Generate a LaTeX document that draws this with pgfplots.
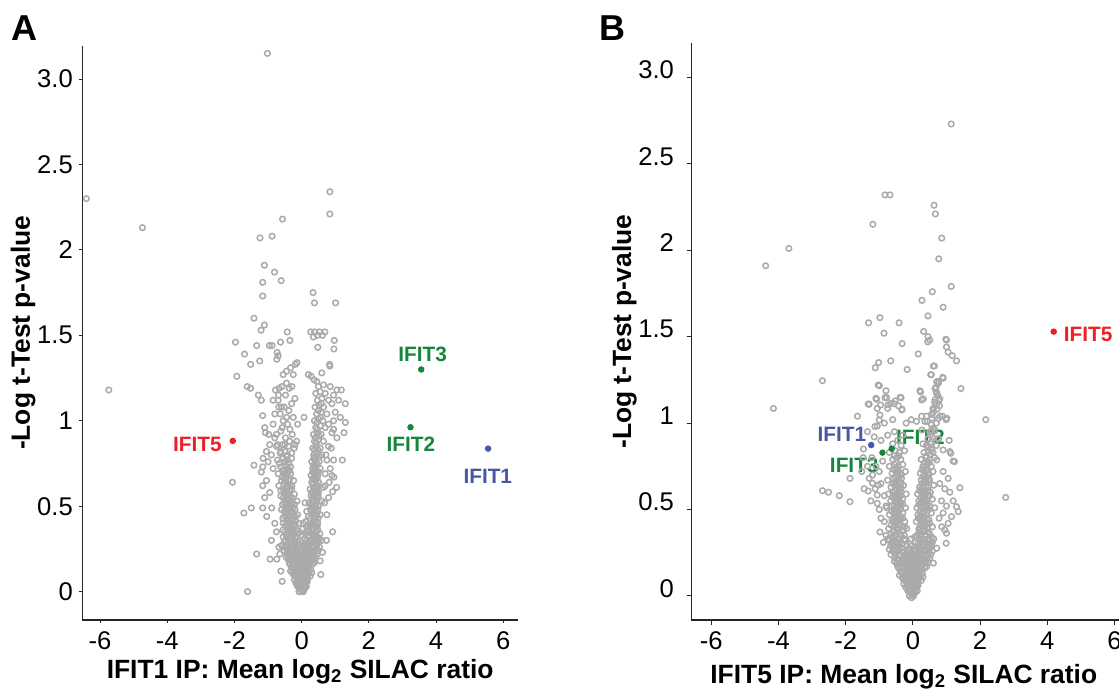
\documentclass[border=0pt]{standalone}
\usepackage{pgfplots}
\pgfplotsset{compat=1.18}
\usepackage{fontspec}
\setmainfont{Liberation Sans}
\definecolor{ptgrey}{RGB}{170,170,170}
\definecolor{ifred}{RGB}{236,32,38}
\definecolor{ifgreen}{RGB}{22,134,60}
\definecolor{ifblue}{RGB}{72,86,166}
\newcommand{\tickfont}{\fontsize{12.8}{15}\selectfont}
\newcommand{\labfont}{\bfseries\fontsize{13.2}{15}\selectfont}
\newcommand{\genefont}{\bfseries\fontsize{10.4}{12}\selectfont}
\pgfplotsset{
  volc/.style={
    scale only axis, clip=false,
    axis x line*=bottom, axis y line*=left,
    axis line style={line width=0.75pt, black!85},
    tick align=outside,
    tick style={line width=0.5pt, black!85},
    xtick={-6,-4,-2,0,2,4,6},
    xticklabels={-6,-4,-2,0,2,4,6},
    ytick={0,0.5,1,1.5,2,2.5,3},
    yticklabels={0,0.5,1,1.5,2,2.5,3.0},
    ticklabel style={font=\tickfont, inner sep=0pt},
    xlabel style={at={(axis description cs:0.5,0)}, anchor=base, inner sep=0pt, font=\labfont},
    ylabel style={anchor=south, inner sep=0pt, font=\labfont},
  },
  grey/.style={only marks, mark=o, mark size=1.4pt, mark options={draw=ptgrey, line width=0.75pt}},
  gene/.style={only marks, mark=*, mark size=1.4pt},
}
\begin{document}
\begin{tikzpicture}
\path[use as bounding box] (0,0) rectangle (559.5pt,344.5pt);
\node[anchor=base west, inner sep=0pt, font=\bfseries\fontsize{18}{20}\selectfont] at (5.35pt,324.15pt) {A};
\node[anchor=base west, inner sep=0pt, font=\bfseries\fontsize{18}{20}\selectfont] at (299.4pt,324.15pt) {B};
% ---------------- Panel A ----------------
\begin{axis}[volc,
  at={(41.15pt,34.5pt)}, anchor=south west,
  width=217.85pt, height=287.15pt,
  xmin=-6.53, xmax=6.44, ymin=-0.166, ymax=3.195,
  major tick length=1.5pt,
  xticklabel style={yshift=-4.35pt},
  yticklabel style={xshift=-3.05pt},
  xlabel={IFIT1 IP: Mean log\textsubscript{2} SILAC ratio},
  xlabel style={yshift=-29.15pt},
  ylabel={-Log t-Test p-value},
  ylabel style={at={(axis description cs:-0.1063,0.5)}},
]
\addplot[grey] coordinates {
(-6.41,2.30) (-4.74,2.13) (-5.74,1.18) (-1.02,3.15) (0.84,2.34) (0.84,2.21) (-0.57,2.18)
(-1.24,2.07) (-0.88,2.08) (-1.11,1.91) (-0.81,1.87) (-1.16,1.81) (-0.61,1.82) (-1.16,1.73)
(0.34,1.75) (0.38,1.69) (1.01,1.69) (-1.42,1.60) (-1.11,1.56) (-1.21,1.53) (-0.43,1.52)
(0.27,1.52) (0.38,1.52) (0.53,1.52) (0.69,1.52) (0.35,1.49) (0.47,1.50) (0.62,1.50)
(0.97,1.47) (0.96,1.42) (0.48,1.43) (-1.97,1.46) (-1.34,1.44) (-0.96,1.44) (-0.88,1.44)
(-0.63,1.46) (-0.35,1.47) (-0.73,1.40) (-0.70,1.38) (-1.70,1.39) (-1.25,1.35) (-1.52,1.33)
(-0.74,1.36) (-0.19,1.33) (-0.33,1.31) (-0.45,1.29) (-0.55,1.27) (-0.25,1.27) (-0.14,1.34)
(-1.93,1.26) (-1.62,1.20) (-1.52,1.19) (-0.67,1.19) (-0.59,1.20) (-0.37,1.19) (-0.29,1.20)
(-1.29,1.15) (-1.20,1.12) (-0.69,1.15) (-0.70,1.12) (-0.68,1.08) (-0.60,1.08) (-0.38,1.06)
(-0.45,1.02) (-0.55,1.00) (-0.35,0.95) (-0.28,0.92) (-1.16,1.03) (-1.10,0.96) (-1.08,0.93)
(-0.98,0.92) (0.07,1.02) (-0.85,0.98) (-0.80,0.90) (-0.62,0.94) (-0.48,0.90) (-0.15,0.88)
(-0.95,0.86) (-0.72,0.86) (-0.90,0.80) (-1.05,0.82) (-1.15,0.78) (-1.20,0.70) (-1.16,0.73)
(-1.16,0.62) (-1.05,0.65) (-0.95,0.58) (-1.10,0.55) (-1.16,0.49) (-1.04,0.44) (-0.89,0.49)
(-0.85,0.72) (-1.00,0.76) (-1.42,0.74) (-2.06,0.64) (-1.72,0.46) (-1.50,0.49) (-0.80,0.40)
(-0.75,0.35) (-0.90,0.30) (-0.68,0.26) (-1.34,0.22) (-0.94,0.19) (-0.74,0.19) (-1.61,0.00)
(-0.62,0.12) (-0.58,0.06)
(-0.42,0.80) (-0.30,0.78) (-0.62,0.82) (-0.50,0.86) (-0.36,0.88) (-0.22,0.84) (-0.75,0.92)
(-0.58,0.96) (-0.42,0.98) (-0.25,1.02) (-0.12,0.98) (-0.80,1.04) (-0.64,1.04) (-0.52,1.08)
(-0.30,1.10) (-0.85,1.12) (-0.48,1.15) (-0.20,1.13) (-0.78,1.18) (-0.45,1.22)
(0.20,1.27) (0.37,1.24) (0.28,1.26) (0.45,1.23) (0.83,1.33) (0.60,1.28) (0.84,1.32)
(1.30,1.10) (1.30,0.99) (1.26,0.93) (1.18,1.18) (1.10,1.12) (1.00,1.05) (0.90,1.10)
(1.15,1.02) (0.95,0.95) (1.05,0.90) (0.88,0.84) (1.21,0.77) (0.95,0.77) (0.85,0.72)
(0.90,0.68) (0.96,0.67) (1.04,0.61) (0.92,0.585) (0.74,0.30) (0.62,0.23) (0.92,0.35)
(0.57,0.10) (0.75,0.45) (0.68,0.52) (0.80,0.55) (0.70,0.62) (0.82,0.64) (0.72,0.80) (0.80,0.98)
(-0.55,0.40) (-0.42,0.41) (-0.30,0.40) (-0.18,0.41) (-0.08,0.40)
(-0.50,0.44) (-0.37,0.45) (-0.24,0.44) (-0.12,0.45)
(-0.60,0.48) (-0.45,0.48) (-0.33,0.49) (-0.20,0.48)
(-0.52,0.52) (-0.40,0.53) (-0.27,0.52) (-0.14,0.53)
(-0.62,0.56) (-0.48,0.57) (-0.35,0.56) (-0.22,0.57)
(-0.55,0.60) (-0.42,0.61) (-0.30,0.60) (-0.68,0.62)
(-0.60,0.65) (-0.47,0.64) (-0.35,0.66) (-0.24,0.65)
(-0.70,0.69) (-0.53,0.69) (-0.40,0.70)
(-0.62,0.73) (-0.48,0.74) (-0.33,0.73)
(-0.72,0.77) (-0.55,0.78) (-0.42,0.77)
(-0.64,0.81) (-0.50,0.82) (-0.30,0.81)
(-0.75,0.85) (-0.58,0.86) (-0.40,0.85) (-0.20,0.86)
(0.12,0.41) (0.24,0.40) (0.36,0.41) (0.48,0.40)
(0.20,0.44) (0.31,0.45) (0.42,0.44) (0.55,0.45)
(0.26,0.48) (0.37,0.49) (0.48,0.48)
(0.22,0.52) (0.33,0.53) (0.44,0.52) (0.60,0.53)
(0.28,0.56) (0.38,0.57) (0.49,0.56)
(0.25,0.60) (0.35,0.61) (0.45,0.60) (0.65,0.61)
(0.30,0.64) (0.40,0.65) (0.50,0.64)
(0.28,0.68) (0.38,0.69) (0.48,0.68) (0.70,0.69)
(0.33,0.72) (0.43,0.73) (0.55,0.72)
(0.30,0.76) (0.40,0.77) (0.52,0.76) (0.75,0.77)
(0.36,0.80) (0.47,0.81) (0.60,0.80)
(0.33,0.84) (0.43,0.85) (0.55,0.84) (0.80,0.85)
(0.38,0.88) (0.50,0.89) (0.65,0.88)
(0.35,0.92) (0.46,0.93) (0.58,0.92) (0.90,0.93)
(0.42,0.96) (0.55,0.97) (0.70,0.96)
(0.38,1.00) (0.50,1.01) (0.63,1.00) (0.95,1.00)
(0.45,1.04) (0.58,1.05) (0.75,1.04)
(0.40,1.08) (0.52,1.09) (0.65,1.08)
(0.47,1.12) (0.60,1.13) (0.80,1.12)
(0.42,1.16) (0.55,1.17) (0.70,1.16) (0.95,1.15)
(0.50,1.20) (0.65,1.21) (0.85,1.20) (1.05,1.18)
(0.10,0.52) (0.15,0.47) (0.05,0.40)
(-0.02,0.00) (0.03,0.01) (-0.06,0.02) (0.07,0.03) (-0.10,0.04) (0.01,0.05) (0.12,0.05) (-0.14,0.06)
(0.10,0.07) (-0.04,0.08) (0.17,0.09) (-0.20,0.09) (-0.10,0.10) (0.05,0.10) (0.22,0.11) (-0.27,0.11)
(-0.16,0.13) (0.00,0.13) (0.13,0.14) (0.27,0.13) (-0.30,0.14)
(-0.35,0.16) (-0.22,0.16) (-0.07,0.16) (0.07,0.17) (0.20,0.17) (0.32,0.16)
(-0.40,0.19) (-0.27,0.19) (-0.13,0.20) (0.01,0.20) (0.15,0.19) (0.28,0.20) (0.40,0.19)
(-0.44,0.22) (-0.32,0.23) (-0.18,0.23) (-0.04,0.22) (0.10,0.23) (0.23,0.22) (0.36,0.23) (0.47,0.22)
(-0.48,0.26) (-0.36,0.26) (-0.23,0.25) (-0.09,0.26) (0.05,0.26) (0.18,0.25) (0.31,0.26) (0.43,0.25) (0.53,0.26)
(-0.52,0.29) (-0.40,0.29) (-0.27,0.28) (-0.13,0.29) (0.01,0.29) (0.14,0.28) (0.27,0.29) (0.39,0.28) (0.50,0.29)
(-0.55,0.32) (-0.43,0.32) (-0.31,0.31) (-0.18,0.32) (0.09,0.31) (0.22,0.32) (0.35,0.31) (0.47,0.32)
(-0.50,0.35) (-0.37,0.35) (-0.24,0.34) (-0.10,0.34) (0.17,0.35) (0.29,0.34) (0.41,0.35) (0.54,0.34)
(-0.44,0.38) (-0.31,0.37) (-0.18,0.38) (0.04,0.37) (0.24,0.38) (0.35,0.37) (0.46,0.38)
(0.00,0.03) (-0.04,0.06) (0.06,0.08) (-0.12,0.12) (0.09,0.12) (-0.24,0.14) (0.19,0.14) (-0.02,0.15)
(-0.30,0.18) (0.25,0.17) (-0.08,0.19) (0.10,0.20) (-0.38,0.21) (0.33,0.21) (-0.12,0.22) (0.05,0.22)
(-0.28,0.24) (0.27,0.24) (-0.02,0.25) (0.60,0.30) (-0.65,0.22) (0.55,0.18)
(0.05,0.00) (-0.08,0.00) (0.09,0.02) (-0.12,0.03) (0.14,0.03) (-0.17,0.05) (0.15,0.07) (-0.22,0.07)
(-0.15,0.08) (0.00,0.09) (0.12,0.09) (-0.24,0.10) (0.25,0.09) (-0.06,0.11) (0.10,0.11) (-0.20,0.12)
(0.20,0.12) (0.05,0.14) (-0.09,0.14) (0.30,0.11) (-0.33,0.12)
(-0.28,0.17) (-0.14,0.17) (0.00,0.18) (0.13,0.17) (0.26,0.18) (0.38,0.17) (-0.37,0.17)
(-0.20,0.20) (-0.06,0.20) (0.08,0.19) (0.21,0.20) (0.34,0.19) (-0.46,0.20)
(-0.26,0.21) (-0.11,0.21) (0.03,0.21) (0.17,0.21) (0.30,0.21) (-0.40,0.24) (-0.16,0.24)
(-0.03,0.24) (0.11,0.24) (0.24,0.24) (0.37,0.24) (0.49,0.24) (-0.52,0.24) (-0.44,0.27)
(-0.30,0.27) (-0.06,0.27) (0.08,0.27) (0.20,0.27) (0.33,0.27) (0.45,0.27)
(-0.48,0.30) (-0.37,0.30) (-0.22,0.30) (0.15,0.30) (0.28,0.30) (0.41,0.30) (-0.42,0.34)
(-0.30,0.33) (-0.15,0.36) (0.23,0.33) (0.35,0.33) (0.48,0.36) (-0.56,0.36) (0.30,0.36)
(-0.37,0.38) (0.40,0.39)
(-0.48,0.39) (-0.36,0.40) (-0.24,0.39) (-0.56,0.43) (-0.43,0.43) (-0.30,0.43) (-0.18,0.44)
(-0.52,0.47) (-0.39,0.47) (-0.27,0.46) (-0.46,0.51) (-0.34,0.51) (-0.21,0.51) (-0.57,0.51)
(-0.42,0.55) (-0.29,0.55) (-0.55,0.55) (-0.48,0.59) (-0.36,0.59) (-0.62,0.59) (-0.53,0.63)
(-0.41,0.63) (-0.29,0.62) (-0.46,0.67) (-0.58,0.67) (-0.33,0.69) (-0.56,0.71) (-0.44,0.72)
(-0.67,0.75) (-0.38,0.75) (-0.50,0.76)
(0.30,0.39) (0.42,0.38) (0.26,0.43) (0.37,0.43) (0.49,0.43) (0.31,0.47) (0.43,0.47)
(0.28,0.50) (0.39,0.51) (0.50,0.50) (0.33,0.55) (0.44,0.55) (0.30,0.58) (0.40,0.59)
(0.50,0.58) (0.35,0.63) (0.45,0.62) (0.33,0.66) (0.43,0.67) (0.38,0.71) (0.50,0.70)
(0.35,0.74) (0.46,0.75) (0.40,0.79) (0.53,0.79) (0.38,0.83) (0.48,0.83) (0.44,0.87)
(0.40,0.90) (0.52,0.91) (0.47,0.95) (0.45,0.99) (0.56,1.02) (0.50,1.06) (0.58,1.10)
(0.02,0.04) (-0.03,0.10) (0.08,0.05) (-0.07,0.04) (0.14,0.12) (-0.18,0.15) (0.16,0.22)
(-0.22,0.19) (0.03,0.17) (-0.10,0.17) (0.22,0.15) (-0.14,0.25) (0.12,0.26) (-0.35,0.20)
(0.35,0.26) (-0.05,0.30) (-0.34,0.28) (0.25,0.30) (0.44,0.31) (-0.46,0.33) (-0.20,0.34)
(0.00,0.33) (0.11,0.34) (-0.26,0.37) (0.14,0.38) (0.29,0.39) (-0.40,0.42) (-0.26,0.42)
(0.34,0.40) (0.45,0.41) (-0.46,0.46) (-0.31,0.47) (0.34,0.46) (0.46,0.46) (-0.38,0.50)
(-0.25,0.49) (0.30,0.52) (0.42,0.50) (-0.45,0.54) (-0.33,0.53) (0.36,0.55) (0.47,0.54)
(-0.40,0.57) (-0.52,0.58) (0.33,0.58) (0.44,0.58) (-0.45,0.61) (-0.35,0.62) (0.38,0.61)
(0.48,0.62) (-0.50,0.66) (-0.40,0.65) (0.36,0.66) (0.46,0.66) (-0.52,0.71) (-0.36,0.71)
(0.33,0.70) (0.44,0.70) (-0.45,0.79) (0.42,0.74) (0.36,0.78) (0.45,0.80)
(-0.01,0.02) (0.04,0.06) (-0.09,0.07) (0.11,0.04) (-0.16,0.10) (0.17,0.06) (-0.04,0.12)
(0.07,0.13) (0.20,0.15) (-0.26,0.16) (-0.11,0.18) (0.05,0.16) (0.16,0.18) (-0.32,0.21)
(0.40,0.21) (-0.22,0.22) (0.28,0.23) (-0.08,0.24) (0.14,0.23) (-0.45,0.25) (0.42,0.28)
(-0.36,0.31) (0.53,0.31) (-0.60,0.27) (-0.12,0.27) (0.21,0.35) (-0.28,0.35) (0.36,0.29)
};
\addplot[gene, color=ifgreen] coordinates {(3.56,1.30) (3.24,0.962)};
\addplot[gene, color=ifblue] coordinates {(5.55,0.837)};
\addplot[gene, color=ifred] coordinates {(-2.05,0.882)};
\node[font=\genefont, text=ifgreen, inner sep=0pt] at (axis cs:3.60,1.387) {IFIT3};
\node[font=\genefont, text=ifgreen, inner sep=0pt] at (axis cs:3.25,0.863) {IFIT2};
\node[font=\genefont, text=ifblue, inner sep=0pt] at (axis cs:5.54,0.675) {IFIT1};
\node[font=\genefont, text=ifred, inner sep=0pt, anchor=east] at (axis cs:-2.37,0.863) {IFIT5};
\end{axis}
% ---------------- Panel B ----------------
\begin{axis}[volc,
  at={(345.7pt,34.5pt)}, anchor=south west,
  width=218.95pt, height=288.35pt,
  xmin=-6.59, xmax=6.44, ymin=-0.139, ymax=3.197,
  major tick length=2.4pt,
  xticklabel style={yshift=-3.45pt},
  yticklabel style={xshift=-6.15pt, yshift=3.7pt},
  xlabel={IFIT5 IP: Mean log\textsubscript{2} SILAC ratio},
  xlabel style={at={(axis description cs:0.485,0)}, yshift=-31.65pt},
  ylabel={-Log t-Test p-value},
  ylabel style={at={(axis description cs:-0.1242,0.5)}},
]
\addplot[grey] coordinates {
(1.14,2.73) (-0.83,2.32) (-0.68,2.32) (0.63,2.26) (0.67,2.21) (-1.19,2.15) (0.86,2.07)
(-3.69,2.01) (-4.38,1.91) (0.77,1.95) (1.14,1.79) (0.58,1.76) (0.27,1.71) (0.90,1.67)
(0.45,1.62) (-1.32,1.58) (-0.98,1.61) (-0.41,1.58) (-0.86,1.52) (0.32,1.53) (0.50,1.48)
(1.00,1.48) (0.45,1.50) (-0.32,1.46) (0.44,1.47) (0.16,1.40) (0.98,1.485) (1.00,1.44)
(1.05,1.41) (1.17,1.39) (1.30,1.36) (0.61,1.33) (0.53,1.28) (0.89,1.265) (0.71,1.24)
(1.43,1.20) (2.17,1.02) (2.76,0.57) (-2.69,1.245) (-4.15,1.085) (-1.02,1.35) (-1.12,1.32)
(-0.66,1.36) (-0.17,1.31) (-1.03,1.22) (-1.65,1.04) (0.64,1.33) (0.55,1.28) (0.90,1.26)
(0.77,1.24) (1.40,0.626) (1.30,0.516) (1.35,0.488) (1.15,0.459) (-2.69,0.609) (-2.51,0.60)
(-2.19,0.58) (-1.87,0.545) (-1.87,0.68) (-1.33,0.607) (-1.20,0.652) (-1.03,0.642)
(-1.06,0.584) (-1.06,0.536) (0.61,0.19) (0.71,0.276) (0.99,0.305) (1.00,0.363) (0.95,0.382)
(0.86,0.40) (1.20,0.78) (1.10,0.835) (0.90,0.845) (0.71,0.787) (0.56,0.845)
(-1.00,1.216) (-1.30,1.109) (-1.10,1.143) (-0.83,1.147) (-0.74,1.105) (-0.35,1.147)
(-0.56,1.112) (-0.32,1.08) (-0.80,1.187) (-0.78,1.147) (-1.08,1.138) (-1.33,1.11)
(-1.06,1.085) (-0.96,1.105) (-0.66,1.114) (-0.53,1.128) (-0.38,1.149) (-0.43,1.10)
(-0.33,1.076) (-0.75,1.085) (-0.98,1.047) (-1.00,1.018) (-1.06,0.983) (-1.13,0.98)
(-1.35,0.95) (-1.15,0.92) (-0.95,0.90) (-0.75,0.93) (-0.55,0.95) (-0.45,0.90) (-0.30,0.93)
(-0.20,1.00) (-0.05,1.02) (-0.60,1.02) (-0.85,1.00)
(-1.47,0.85) (-1.48,0.80) (-1.35,0.75) (-1.22,0.80) (-1.10,0.75) (-1.20,0.70) (-1.00,0.72)
(-0.90,0.78) (-1.30,0.68) (-1.52,0.72) (-0.95,0.65) (-1.12,0.62) (-0.85,0.58) (-0.80,0.52)
(-1.25,0.55) (-1.45,0.62) (-0.98,0.37) (-0.88,0.31) (-0.95,0.45) (-1.00,0.50)
(0.21,1.187) (0.26,1.134) (0.31,1.14) (0.69,1.207) (0.76,1.23) (0.71,1.17) (0.66,1.134)
(0.71,1.11) (0.61,1.076) (0.79,1.10) (0.56,1.028) (0.41,1.04) (0.26,1.04) (0.36,1.01)
(0.76,1.028) (0.81,1.04) (1.01,1.028) (0.23,1.18) (0.66,1.20) (0.74,1.16) (0.77,1.13)
(0.60,1.085) (0.55,1.05) (0.88,1.04) (0.99,1.02) (1.08,0.90) (1.13,0.825) (1.24,0.777)
(0.77,0.91) (0.56,0.95) (0.27,0.96) (0.11,1.01) (0.43,1.01)
(0.90,0.72) (1.05,0.68) (0.95,0.62) (1.10,0.60) (0.85,0.55) (1.00,0.52) (0.90,0.48)
(1.20,0.55) (0.78,0.45) (1.05,0.42) (0.80,0.65)
(-0.80,0.35) (-0.65,0.36) (-0.50,0.35) (-0.38,0.36) (-0.25,0.35)
(-0.72,0.39) (-0.57,0.40) (-0.44,0.39) (-0.30,0.40) (-0.18,0.39)
(-0.85,0.43) (-0.62,0.44) (-0.50,0.43) (-0.37,0.44) (-0.24,0.43)
(-0.70,0.47) (-0.56,0.48) (-0.43,0.47) (-0.30,0.48)
(-0.78,0.51) (-0.62,0.52) (-0.50,0.51) (-0.37,0.52) (-0.22,0.51)
(-0.66,0.55) (-0.54,0.56) (-0.42,0.55) (-0.30,0.56)
(-0.72,0.59) (-0.60,0.60) (-0.47,0.59) (-0.35,0.60) (-0.20,0.59)
(-0.65,0.63) (-0.53,0.64) (-0.41,0.63) (-0.28,0.64)
(-0.75,0.67) (-0.58,0.68) (-0.46,0.67) (-0.34,0.68)
(-0.62,0.71) (-0.50,0.72) (-0.38,0.71) (-0.22,0.72)
(-0.70,0.75) (-0.55,0.76) (-0.43,0.75) (-0.30,0.76)
(-0.60,0.79) (-0.48,0.80) (-0.36,0.79)
(-0.70,0.83) (-0.52,0.84) (-0.40,0.83) (-0.25,0.84)
(-0.60,0.88) (-0.35,0.87)
(0.12,0.35) (0.25,0.36) (0.38,0.35) (0.50,0.36)
(0.18,0.39) (0.30,0.40) (0.43,0.39) (0.58,0.40)
(0.10,0.43) (0.22,0.44) (0.35,0.43) (0.48,0.44)
(0.15,0.47) (0.28,0.48) (0.40,0.47) (0.55,0.48)
(0.12,0.51) (0.24,0.52) (0.36,0.51) (0.50,0.52) (0.65,0.51)
(0.18,0.55) (0.30,0.56) (0.43,0.55) (0.58,0.56)
(0.14,0.59) (0.26,0.60) (0.38,0.59) (0.52,0.60)
(0.20,0.63) (0.33,0.64) (0.46,0.63) (0.62,0.64)
(0.25,0.67) (0.37,0.68) (0.50,0.67)
(0.22,0.71) (0.34,0.72) (0.47,0.71) (0.60,0.72)
(0.30,0.75) (0.42,0.76) (0.55,0.75)
(0.25,0.79) (0.38,0.80) (0.50,0.79) (0.65,0.80)
(0.33,0.83) (0.46,0.84) (0.60,0.83)
(0.40,0.87) (0.52,0.88) (0.70,0.87) (0.30,0.88)
(0.45,0.91) (0.58,0.92) (0.75,0.91)
(0.50,0.95) (0.65,0.96) (0.55,0.99) (0.70,1.00)
(0.60,1.06) (0.72,1.08) (0.65,1.12) (0.80,1.14) (0.70,1.18)
(-0.04,-0.01) (0.00,0.01) (-0.08,0.02) (0.05,0.03) (-0.13,0.04) (-0.02,0.05) (0.10,0.05) (-0.18,0.06)
(0.08,0.07) (-0.07,0.08) (0.16,0.09) (-0.25,0.09) (-0.13,0.10) (0.03,0.10) (0.22,0.11) (-0.32,0.11)
(-0.20,0.13) (-0.03,0.13) (0.12,0.14) (0.28,0.13) (-0.36,0.14)
(-0.42,0.16) (-0.27,0.16) (-0.10,0.16) (0.06,0.17) (0.21,0.17) (0.35,0.16)
(-0.48,0.19) (-0.33,0.19) (-0.17,0.20) (-0.01,0.20) (0.15,0.19) (0.30,0.20) (0.44,0.19)
(-0.54,0.22) (-0.39,0.23) (-0.23,0.23) (-0.07,0.22) (0.09,0.23) (0.24,0.22) (0.38,0.23) (0.50,0.22)
(-0.60,0.26) (-0.45,0.26) (-0.29,0.25) (-0.13,0.26) (0.03,0.26) (0.18,0.25) (0.33,0.26) (0.46,0.25) (0.58,0.26)
(-0.66,0.29) (-0.50,0.29) (-0.34,0.28) (-0.18,0.29) (-0.02,0.29) (0.14,0.28) (0.29,0.29) (0.42,0.28) (0.55,0.29)
(-0.70,0.32) (-0.55,0.32) (-0.39,0.31) (-0.23,0.32) (0.08,0.31) (0.23,0.32) (0.37,0.31) (0.50,0.32) (0.62,0.33)
(-0.02,0.03) (-0.05,0.06) (0.05,0.08) (-0.15,0.12) (0.08,0.12) (-0.30,0.14) (0.18,0.14) (-0.05,0.15)
(-0.38,0.18) (0.25,0.17) (-0.10,0.19) (0.08,0.20) (-0.46,0.21) (0.32,0.21) (-0.15,0.22) (0.03,0.22)
(-0.36,0.24) (0.27,0.24) (-0.05,0.25) (-0.42,0.28) (0.20,0.29) (-0.60,0.30) (0.45,0.30)
(0.02,0.00) (-0.10,0.00) (0.07,0.02) (-0.15,0.03) (0.13,0.03) (-0.21,0.05) (0.14,0.07) (-0.27,0.07)
(-0.19,0.08) (-0.03,0.09) (0.10,0.09) (-0.30,0.10) (0.25,0.09) (-0.09,0.11) (0.08,0.11) (-0.25,0.12)
(0.19,0.12) (0.03,0.14) (-0.12,0.14) (0.30,0.11) (-0.40,0.12)
(-0.35,0.17) (-0.18,0.17) (-0.02,0.18) (0.13,0.17) (0.28,0.18) (0.41,0.17) (-0.45,0.17)
(-0.25,0.20) (-0.09,0.20) (0.07,0.19) (0.22,0.20) (0.37,0.19) (-0.55,0.20)
(-0.31,0.21) (-0.15,0.21) (0.01,0.21) (0.17,0.21) (0.31,0.21) (-0.52,0.24) (-0.21,0.24)
(-0.05,0.24) (0.11,0.24) (0.26,0.24) (0.40,0.24) (0.53,0.24) (-0.65,0.24) (-0.58,0.27)
(-0.42,0.27) (-0.10,0.27) (0.06,0.27) (0.22,0.27) (0.36,0.27) (0.49,0.27)
(-0.62,0.31) (-0.47,0.30) (-0.31,0.30) (0.15,0.30) (0.30,0.30) (0.44,0.30) (-0.75,0.33)
(-0.60,0.34) (-0.45,0.33) (0.18,0.33) (0.31,0.33) (0.44,0.33) (0.56,0.34)
(-0.58,0.37) (-0.44,0.37) (-0.31,0.38) (-0.65,0.41) (-0.50,0.41) (-0.37,0.41) (-0.24,0.40)
(-0.56,0.45) (-0.43,0.45) (-0.30,0.45) (-0.63,0.49) (-0.50,0.49) (-0.37,0.50) (-0.56,0.53)
(-0.43,0.53) (-0.30,0.53) (-0.60,0.57) (-0.48,0.57) (-0.36,0.58) (-0.54,0.61) (-0.41,0.61)
(-0.59,0.65) (-0.47,0.65) (-0.35,0.65) (-0.52,0.69) (-0.40,0.69) (-0.56,0.73) (-0.44,0.73)
(-0.50,0.77) (-0.42,0.81)
(0.18,0.37) (0.31,0.37) (0.44,0.37) (0.24,0.41) (0.37,0.41) (0.50,0.42) (0.16,0.45)
(0.29,0.45) (0.42,0.45) (0.21,0.49) (0.34,0.49) (0.47,0.50) (0.18,0.53) (0.30,0.53)
(0.43,0.53) (0.24,0.57) (0.36,0.57) (0.50,0.58) (0.20,0.61) (0.32,0.61) (0.45,0.61)
(0.27,0.65) (0.40,0.66) (0.30,0.69) (0.43,0.69) (0.28,0.73) (0.40,0.73) (0.35,0.77)
(0.48,0.77) (0.40,0.81) (0.52,0.82) (0.46,0.86) (0.55,0.89) (0.52,0.93) (0.60,0.97)
(0.00,0.04) (-0.06,0.10) (0.06,0.05) (-0.10,0.04) (0.13,0.12) (-0.22,0.15) (0.15,0.22)
(-0.28,0.19) (0.01,0.17) (-0.13,0.17) (0.25,0.15) (-0.18,0.25) (0.10,0.26) (-0.42,0.21)
(0.40,0.26) (-0.08,0.30) (-0.45,0.29) (0.26,0.31) (0.52,0.30) (-0.55,0.35) (-0.25,0.33)
(-0.05,0.33) (0.05,0.34) (-0.48,0.39) (0.22,0.39) (0.35,0.38) (-0.58,0.43) (-0.43,0.42)
(0.29,0.42) (0.42,0.42) (-0.50,0.46) (-0.36,0.46) (0.22,0.46) (0.35,0.46) (-0.56,0.50)
(-0.44,0.51) (0.28,0.51) (0.42,0.51) (-0.48,0.54) (-0.36,0.54) (0.24,0.54) (0.37,0.55)
(-0.54,0.58) (-0.42,0.58) (0.30,0.58) (0.44,0.58) (-0.47,0.62) (-0.35,0.62) (0.26,0.62)
(0.39,0.63) (-0.53,0.66) (-0.40,0.66) (0.33,0.66) (0.45,0.67) (-0.46,0.70) (-0.34,0.70)
(0.36,0.70) (0.48,0.70) (-0.49,0.74) (0.34,0.74) (0.44,0.78) (-0.55,0.81)
(-0.04,0.02) (0.01,0.06) (-0.12,0.07) (0.08,0.04) (-0.20,0.10) (0.15,0.06) (-0.07,0.12)
(0.05,0.13) (0.20,0.15) (-0.32,0.16) (-0.15,0.18) (0.03,0.16) (0.16,0.18) (-0.40,0.21)
(0.42,0.21) (-0.28,0.22) (0.28,0.23) (-0.12,0.24) (0.14,0.23) (-0.55,0.25) (0.45,0.28)
(-0.45,0.31) (0.58,0.31) (-0.70,0.27) (-0.15,0.27) (0.21,0.35) (-0.35,0.35) (0.36,0.29)
};
\addplot[gene, color=ifgreen] coordinates {(-0.63,0.852) (-0.905,0.829)};
\addplot[gene, color=ifblue] coordinates {(-1.24,0.873)};
\addplot[gene, color=ifred] coordinates {(4.19,1.529)};
\node[font=\genefont, text=ifred, inner sep=0pt, anchor=west] at (axis cs:4.48,1.515) {IFIT5};
\node[font=\genefont, text=ifblue, inner sep=0pt, anchor=east] at (axis cs:-1.38,0.934) {IFIT1};
\node[font=\genefont, text=ifgreen, inner sep=0pt, anchor=west] at (axis cs:-0.51,0.918) {IFIT2};
\node[font=\genefont, text=ifgreen, inner sep=0pt, anchor=east] at (axis cs:-1.01,0.755) {IFIT3};
\end{axis}
\end{tikzpicture}
\end{document}
